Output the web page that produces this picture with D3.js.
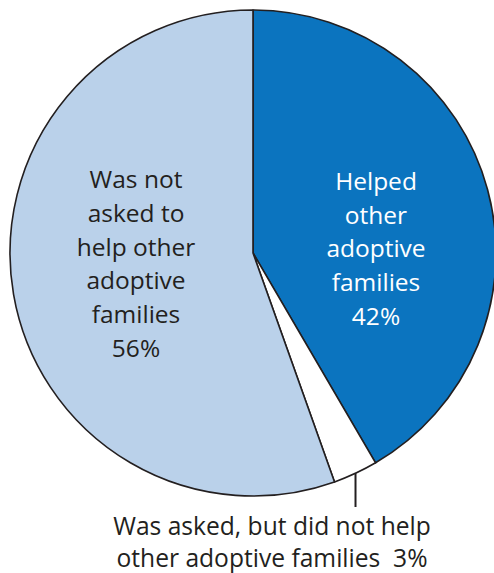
<!DOCTYPE html>
<html><head><meta charset="utf-8">
<script src="https://cdn.jsdelivr.net/npm/d3@7"></script>
<style>body{margin:0;background:#fff}svg{display:block}</style>
</head><body>
<script>
const categories = ["Helped other adoptive families", "Was asked, but did not help other adoptive families", "Was not asked to help other adoptive families"];
const values = [42, 3, 56];
const colors = ["#0b74bf", "#ffffff", "#bad1ea"];
const labelLines = [
  ["Helped", "other", "adoptive", "families", "42%"],
  ["Was asked, but did not help", "other adoptive families  3%"],
  ["Was not", "asked to", "help other", "adoptive", "families", "56%"]
];

const W = 494, H = 573;
const cx = 253, cy = 253, R = 243;
const svg = d3.select("body").append("svg").attr("width", W).attr("height", H);
const g = svg.append("g").attr("transform", `translate(${cx},${cy})`);

const pie = d3.pie().sort(null).value(d => d)(values);
const arc = d3.arc().innerRadius(0).outerRadius(R);

g.selectAll("path").data(pie).join("path")
  .attr("d", arc)
  .attr("fill", (d, i) => colors[i])
  .attr("stroke", "#231f20")
  .attr("stroke-width", 1.6)
  .attr("stroke-linejoin", "round");

const font = "'Open Sans', sans-serif";
const fs = 24.5;
const lh = 33.7;

// Helped label
const t0 = svg.append("text").attr("font-family", font).attr("font-size", fs)
  .attr("fill", "#ffffff").attr("text-anchor", "middle");
labelLines[0].forEach((s, i) => t0.append("tspan").attr("x", 376).attr("y", 190 + i * lh).text(s));

// Not asked label
const t2 = svg.append("text").attr("font-family", font).attr("font-size", fs)
  .attr("fill", "#231f20").attr("text-anchor", "middle");
labelLines[2].forEach((s, i) => t2.append("tspan").attr("x", 136).attr("y", 188 + i * 33.8).text(s));

// Leader for small slice
const mid = (pie[1].startAngle + pie[1].endAngle) / 2;
const x0 = cx + Math.sin(mid) * R, y0 = cy - Math.cos(mid) * R;
svg.append("line").attr("x1", x0).attr("y1", y0).attr("x2", x0).attr("y2", 507)
  .attr("stroke", "#231f20").attr("stroke-width", 2);

const t1 = svg.append("text").attr("font-family", font).attr("font-size", 24.6)
  .attr("fill", "#231f20").attr("text-anchor", "middle").attr("xml:space", "preserve")
  .style("white-space", "pre");
labelLines[1].forEach((s, i) => t1.append("tspan").attr("x", 272).attr("y", 535 + i * 31.5).text(s));
</script>
</body></html>
